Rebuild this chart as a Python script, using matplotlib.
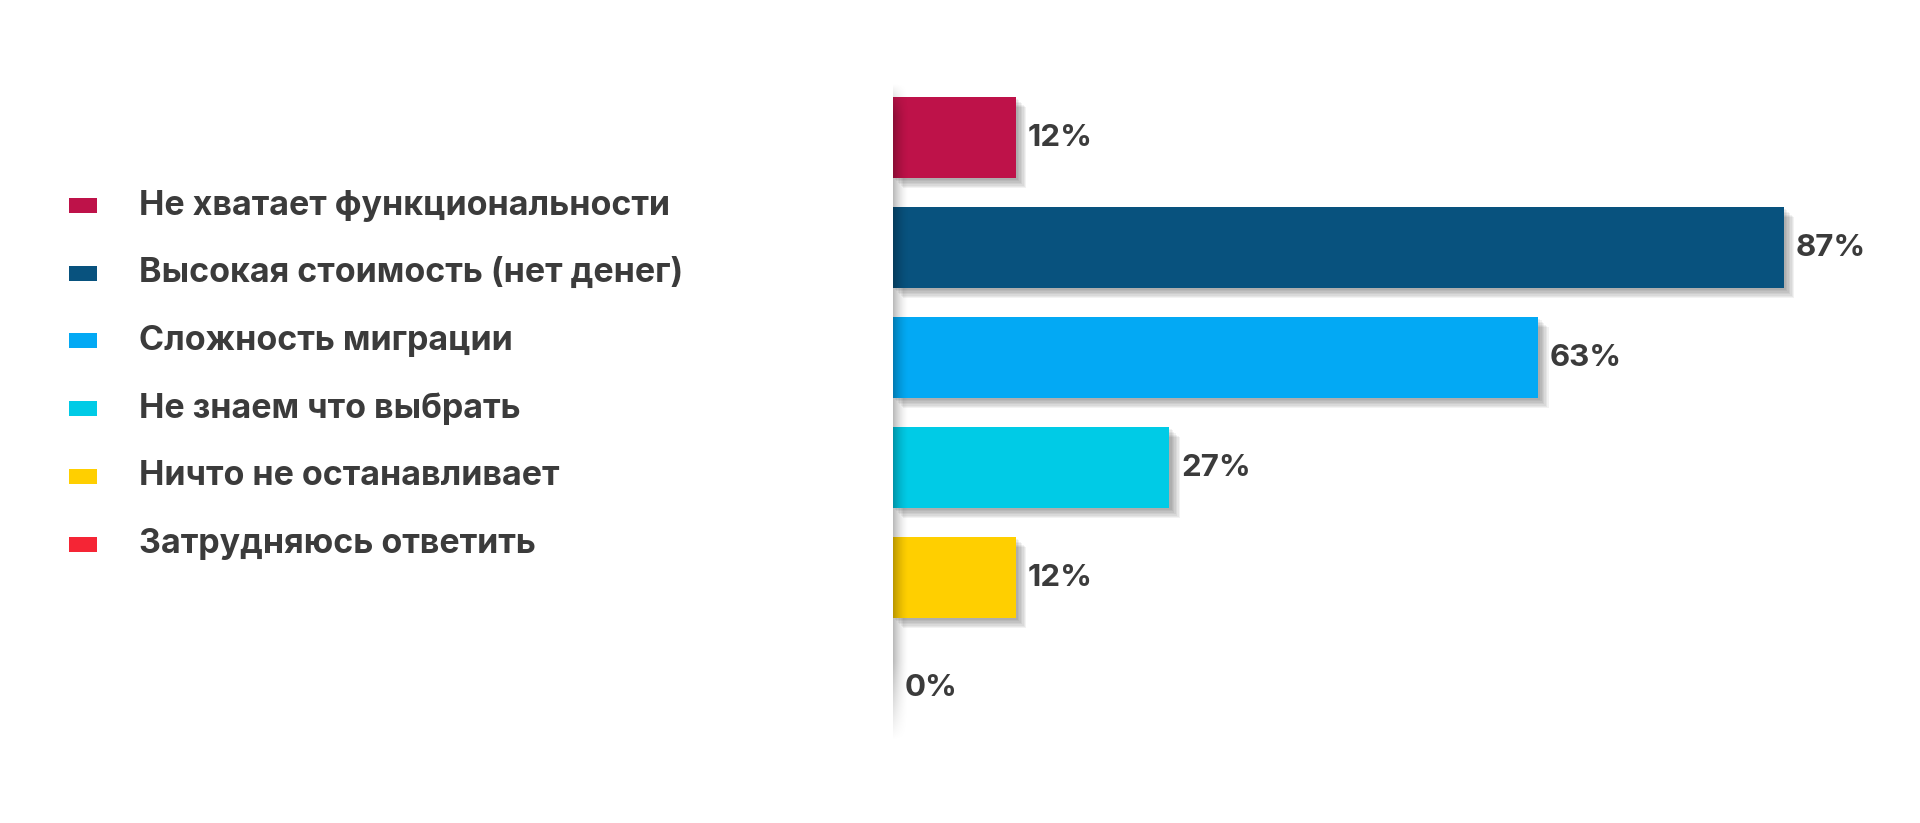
import matplotlib
matplotlib.use("Agg")
import matplotlib.pyplot as plt
import matplotlib.patheffects as pe
import numpy as np

# --- data ---
categories = [
    "Не хватает функциональности",
    "Высокая стоимость (нет денег)",
    "Сложность миграции",
    "Не знаем что выбрать",
    "Ничто не останавливает",
    "Затрудняюсь ответить",
]
values = [12, 87, 63, 27, 12, 0]
colors = ["#BE1249", "#08527E", "#03A9F4", "#00CBE6", "#FFCF00", "#F52535"]

text_color = "#3b3b3b"
plt.rcParams["font.family"] = ["Inter", "DejaVu Sans"]

W, H = 1920, 823
fig = plt.figure(figsize=(W / 100, H / 100), dpi=100)
fig.patch.set_facecolor("white")

# bar axes: 0% at x=893px, 10.24 px per percent, rows 110 px apart
ax = fig.add_axes([893 / W, 1 - 742.5 / H, 1000 / W, 660 / H])
ax.set_xlim(0, 1000 / 10.24)
ax.set_ylim(len(values) - 0.5, -0.5)
ax.axis("off")

# soft blurred shadow built from stacked offset copies
shadow = [pe.SimplePatchShadow(offset=(d, -d), shadow_rgbFace="black", alpha=0.05)
          for d in (1.5, 2.5, 3.5, 4.5, 5.5, 6.5, 7.5)]
shadow.append(pe.Normal())

y = np.arange(len(values))
bars = ax.barh(y, values, height=81 / 110, color=colors, zorder=3)
for b, v in zip(bars, values):
    if v > 0:
        b.set_path_effects(shadow)

for yi, v in zip(y, values):
    ax.text(v + 1.15, yi, f"{v}%", va="center", ha="left", fontsize=22.5,
            fontweight="bold", color=text_color, zorder=5)

# grey gradient along the left edge of the bars
gx = np.linspace(0, 1, 60)
gy = np.linspace(0, 1, 200)
alpha_x = 0.28 * (1 - gx) ** 1.6
alpha_y = np.clip(np.minimum(gy / 0.05, (1 - gy) / 0.12), 0, 1)
grad = np.zeros((len(gy), len(gx), 4))
grad[..., 3] = alpha_y[:, None] * alpha_x[None, :]
ax.imshow(grad, extent=(0, 1.5, len(values) - 0.5, -0.5), aspect="auto",
          zorder=4, interpolation="bilinear")
ax.set_xlim(0, 1000 / 10.24)
ax.set_ylim(len(values) - 0.5, -0.5)

# legend axes: rows 67.7 px apart starting at y=205.5px
lax = fig.add_axes([0, 1 - 577.85 / H, 893 / W, 406.2 / H])
lax.set_xlim(0, 893)
lax.set_ylim(len(categories) - 0.5, -0.5)
lax.axis("off")
lax.barh(y, 28, left=69, height=15 / 67.7, color=colors)
for yi, c in zip(y, categories):
    lax.text(139, yi, c, va="center", ha="left", fontsize=24.5,
             fontweight="bold", color=text_color)

fig.savefig("out.png", dpi=100, facecolor="white")
